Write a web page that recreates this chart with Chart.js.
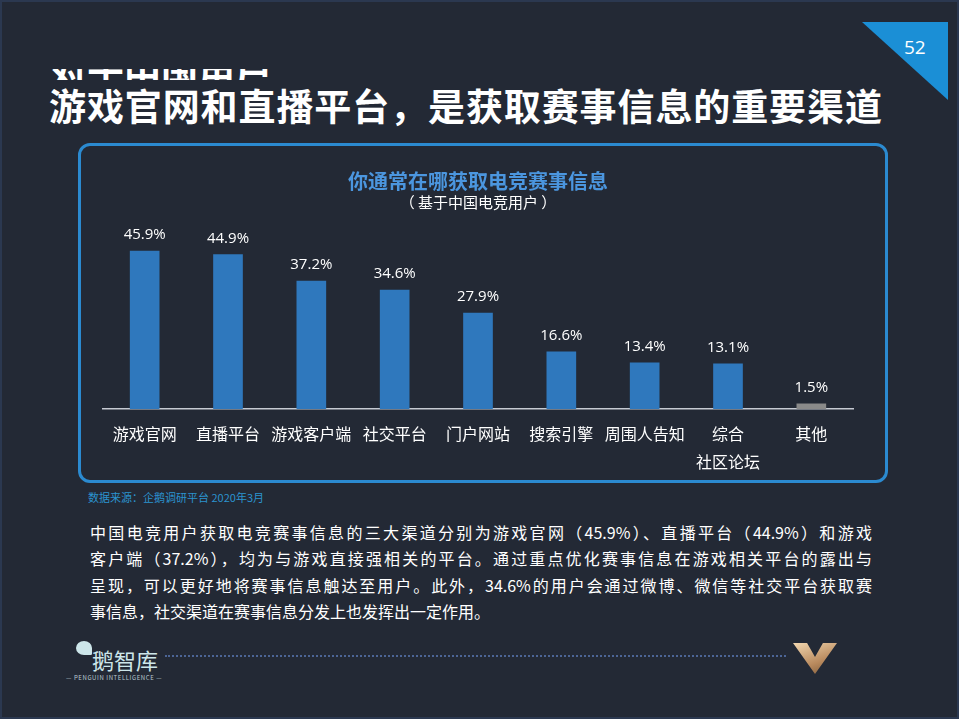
<!DOCTYPE html>
<html>
<head>
<meta charset="utf-8">
<script src="https://cdn.jsdelivr.net/npm/chart.js@4.4.1/dist/chart.umd.min.js"></script>
<style>
  html, body { margin: 0; padding: 0; }
  body {
    width: 959px; height: 719px; position: relative; overflow: hidden;
    background: #232935;
    font-family: "Noto Sans CJK SC", "Noto Sans", sans-serif;
  }
  .frame { position: absolute; left: 0; top: 0; width: 955px; height: 715px; border: 2px solid #2b3850; }
  .corner {
    position: absolute; left: 862px; top: 22px; width: 86px; height: 78px;
    background: #1b8fd6; clip-path: polygon(0 0, 100% 0, 100% 100%);
  }
  .pagenum { position: absolute; left: 904px; top: 34px; color: #fff; font: 19px "Open Sans", sans-serif; }
  .cut {
    position: absolute; left: 50px; top: 69px; width: 220px; height: 11px; overflow: hidden;
  }
  .cut span { position: absolute; left: 0; top: -25px; color: #fff; font-weight: bold; font-size: 37px; white-space: nowrap; }
  .headline {
    position: absolute; left: 49px; top: 78px; color: #fff; font-weight: bold; font-size: 37px;
    white-space: nowrap; letter-spacing: 0.9px;
  }
  .box {
    position: absolute; left: 78px; top: 143px; width: 804px; height: 334px;
    border: 3px solid #2b8ad0; border-radius: 12px;
  }
  #wrap { position: absolute; left: 78px; top: 143px; width: 810px; height: 336px; }
  .source { position: absolute; left: 88px; top: 489px; color: #2b93cf; font-size: 11px; white-space: nowrap; }
  .para { position: absolute; left: 90px; top: 519px; width: 782px; color: #fff; font-size: 16px; }
  .para div { height: 26.3px; line-height: 26.3px; white-space: nowrap; }
  .para .j { text-align: justify; text-align-last: justify; }
  .logo { position: absolute; left: 92px; top: 643px; color: #cde6ea; font-size: 22px; white-space: nowrap; }
  .tag { position: absolute; left: 66px; top: 673px; font-size: 6px; white-space: nowrap; letter-spacing: 0.6px; color: #b8c8d0; }
  .head { position: absolute; left: 76px; top: 641px; width: 16px; height: 14px; background: #cde6ea; border-radius: 60% 60% 10% 60%; }
  .dots { position: absolute; left: 165px; top: 655px; width: 621px; border-top: 2px dotted #4c6596; }
  .vmark {
    position: absolute; left: 793px; top: 643px; width: 44px; height: 31px;
    background: linear-gradient(160deg, #f2d7b0, #b98a5e 60%, #7a5838);
    clip-path: polygon(0 0, 32% 0, 50% 45%, 68% 0, 100% 0, 50% 100%);
  }
</style>
</head>
<body>
<div class="frame"></div>
<div class="corner"></div>
<div class="pagenum">52</div>
<div class="cut"><span>对于中国用户，</span></div>
<div class="headline">游戏官网和直播平台，是获取赛事信息的重要渠道</div>
<div class="box"></div>
<div id="wrap"><canvas id="chart" width="810" height="336"></canvas></div>
<div class="source">数据来源：企鹅调研平台 2020年3月</div>
<div class="para">
  <div class="j">中国电竞用户获取电竞赛事信息的三大渠道分别为游戏官网（45.9%）、直播平台（44.9%）和游戏</div>
  <div class="j">客户端（37.2%），均为与游戏直接强相关的平台。通过重点优化赛事信息在游戏相关平台的露出与</div>
  <div class="j">呈现，可以更好地将赛事信息触达至用户。此外，34.6%的用户会通过微博、微信等社交平台获取赛</div>
  <div>事信息，社交渠道在赛事信息分发上也发挥出一定作用。</div>
</div>
<div class="head"></div>
<div class="logo">鹅智库</div>
<div class="tag">— PENGUIN INTELLIGENCE —</div>
<div class="dots"></div>
<div class="vmark"></div>

<script>
const chartTitle = "你通常在哪获取电竞赛事信息";
const chartSubtitle = "（ 基于中国电竞用户 ）";
const categories = [
  "游戏官网", "直播平台", "游戏客户端", "社交平台", "门户网站",
  "搜索引擎", "周围人告知", ["综合", "社区论坛"], "其他"
];
const shares = [45.9, 44.9, 37.2, 34.6, 27.9, 16.6, 13.4, 13.1, 1.5];
const barColors = ["#2f78bd", "#2f78bd", "#2f78bd", "#2f78bd", "#2f78bd", "#2f78bd", "#2f78bd", "#2f78bd", "#8a8a8a"];

// value labels above each bar
const valueLabels = {
  id: "valueLabels",
  afterDatasetsDraw(chart) {
    const ctx = chart.ctx;
    const meta = chart.getDatasetMeta(0);
    ctx.save();
    ctx.fillStyle = "#ffffff";
    ctx.font = '15px "Open Sans", sans-serif';
    ctx.textAlign = "center";
    ctx.textBaseline = "middle";
    meta.data.forEach((bar, i) => {
      ctx.fillText(shares[i].toFixed(1) + "%", bar.x, bar.y - 16);
    });
    ctx.restore();
  }
};

const ctx = document.getElementById("chart").getContext("2d");
myChart = new Chart(ctx, {
  type: "bar",
  data: {
    labels: categories,
    datasets: [
      {
        label: "获取渠道",
        data: shares,
        backgroundColor: barColors,
        barThickness: 29,
        borderWidth: 0,
      },
    ],
  },
  options: {
    responsive: false,
    animation: false,
    layout: { padding: { left: 25, right: 35, top: 0, bottom: 0 } },
    plugins: {
      legend: { display: false },
      tooltip: { enabled: false },
      title: {
        display: true,
        text: chartTitle,
        color: "#4b96df",
        font: { family: '"Noto Sans CJK SC"', size: 20, weight: "bold" },
        padding: { top: 26, bottom: 0 },
      },
      subtitle: {
        display: true,
        text: chartSubtitle,
        color: "#ffffff",
        font: { family: '"Noto Sans CJK SC"', size: 15 },
        padding: { top: 0, bottom: 26 },
      },
    },
    scales: {
      x: {
        grid: { display: false },
        border: { display: true, color: "#c6cad2", width: 1.5 },
        ticks: {
          color: "#ffffff",
          font: { family: '"Noto Sans CJK SC"', size: 16, lineHeight: "28px" },
          padding: 3,
          maxRotation: 0,
          autoSkip: false,
        },
      },
      y: {
        display: false,
        min: 0,
        max: 50,
      },
    },
  },
  plugins: [valueLabels],
});
</script>
</body>
</html>
